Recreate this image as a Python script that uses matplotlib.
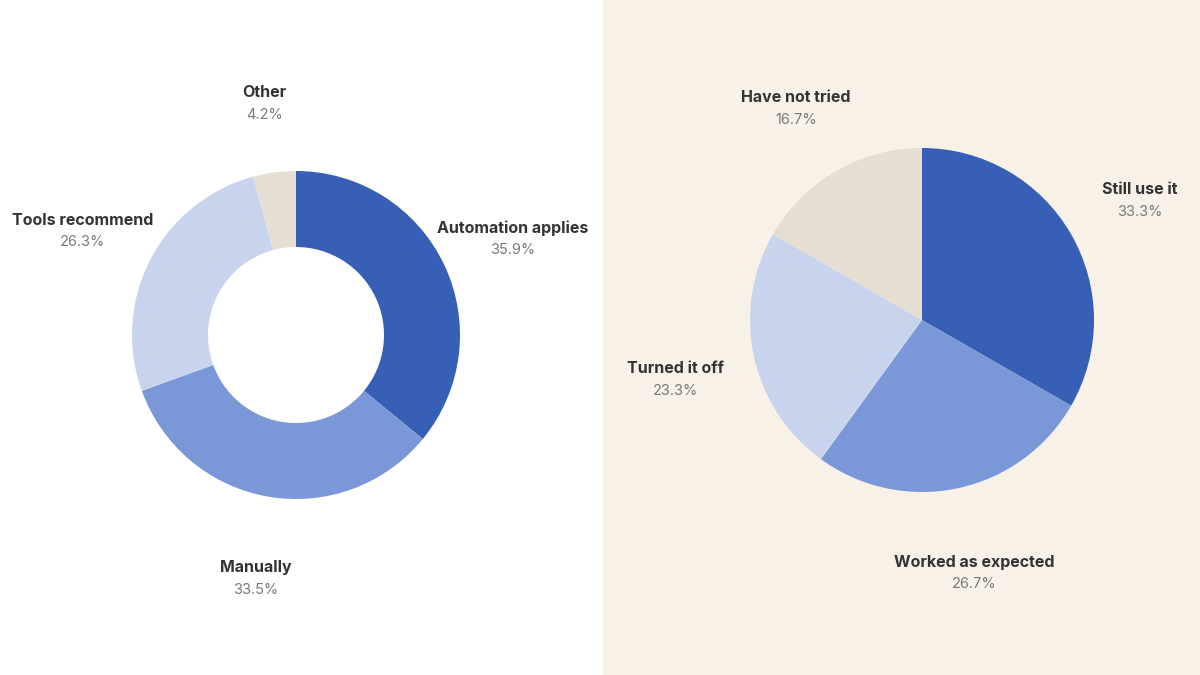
import numpy as np
import matplotlib.pyplot as plt
from matplotlib.patches import Rectangle

plt.rcParams['font.family'] = ['Inter', 'DejaVu Sans']

# left chart: donut
left_labels = ["Automation applies", "Manually", "Tools recommend", "Other"]
left_values = [35.9, 33.5, 26.3, 4.2]

# right chart: pie
right_labels = ["Still use it", "Worked as expected", "Turned it off", "Have not tried"]
right_values = [33.3, 26.7, 23.3, 16.7]

colors = ["#375fb5", "#7a98d8", "#c8d4ee", "#e6ded3"]
panel_bg = "#f7f1e7"
name_col = "#333333"
pct_col = "#7a7a7a"

W, H = 1200, 675
fig = plt.figure(figsize=(W / 100, H / 100), dpi=100)
fig.patch.set_facecolor("white")

ax = fig.add_axes([0, 0, 1, 1])
ax.axis("off")
# beige right panel
ax.add_patch(Rectangle((603, 0), W - 603, H, facecolor=panel_bg, edgecolor="none", zorder=-5))


def draw(vals, labels, cx, cy, r, hole=None, lab_r=1.465):
    kw = dict(width=r - hole, edgecolor="none") if hole else dict(edgecolor="none")
    ax.pie(vals, colors=colors, startangle=90, counterclock=False,
           center=(cx, cy), radius=r, wedgeprops=kw)
    total = sum(vals)
    start = 90.0
    for v, name in zip(vals, labels):
        mid = np.deg2rad(start - v / total * 360 / 2)
        start -= v / total * 360
        x = cx + lab_r * r * np.cos(mid)
        y = cy + lab_r * r * np.sin(mid)
        ax.text(x, y + 4, name, ha="center", va="center", fontsize=11.5,
                fontweight="bold", color=name_col)
        ax.text(x, y - 18, f"{v:.1f}%", ha="center", va="center", fontsize=10.5,
                color=pct_col)


draw(left_values, left_labels, 296, H - 335, 164, hole=88)
draw(right_values, right_labels, 922, H - 320, 172)

ax.set_xlim(0, W)
ax.set_ylim(0, H)
ax.set_aspect("auto")

fig.savefig("out.png", dpi=100, facecolor=fig.get_facecolor())
